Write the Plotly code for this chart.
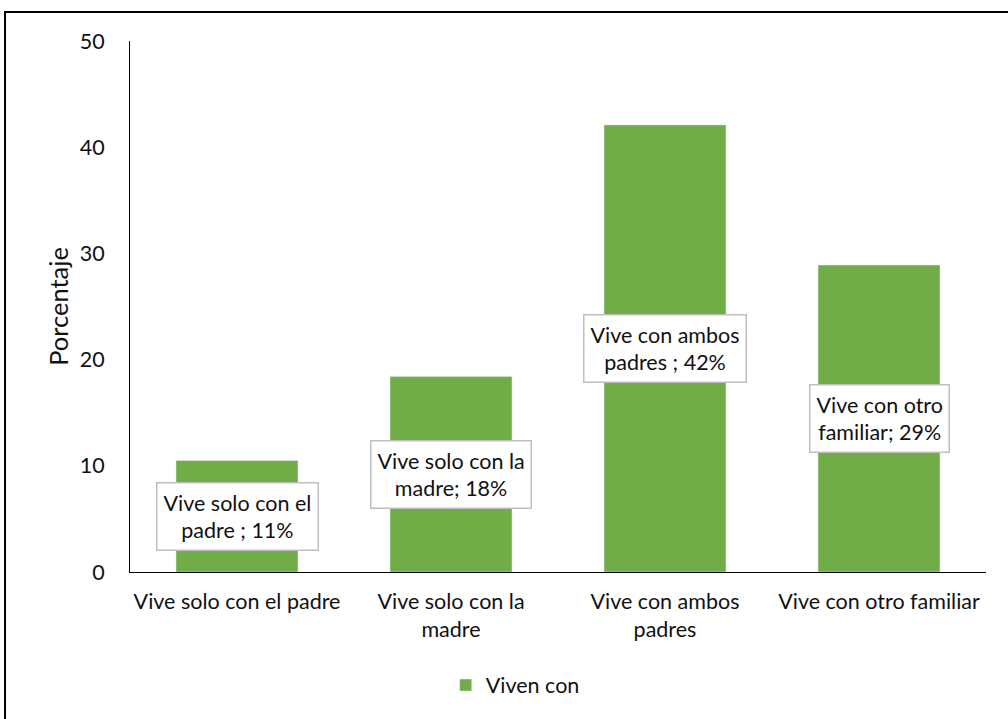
import plotly.graph_objects as go

categories = ["Vive solo con el padre", "Vive solo con la<br>madre", "Vive con ambos<br>padres", "Vive con otro familiar"]
values = [10.5, 18.4, 42.1, 28.9]
label_texts = ["Vive solo con el<br>padre ; 11%", "Vive solo con la<br>madre; 18%", "Vive con ambos<br>padres ; 42%", "Vive con otro<br>familiar; 29%"]
series_name = "Viven con"
y_ticks = [0, 10, 20, 30, 40, 50]

FONT = "Lato, 'Open Sans', sans-serif"
GREEN = "#70AD47"
FS = 21.5

fig = go.Figure()
fig.add_trace(go.Bar(x=categories, y=values, name=series_name, marker_color=GREEN,
                     width=0.57, showlegend=True))

for c, v, t in zip(categories, values, label_texts):
    fig.add_annotation(x=c, y=v / 2, text=t, showarrow=False,
                       font=dict(family=FONT, size=FS, color="#111111"),
                       bgcolor="white", bordercolor="#BFBFBF", borderwidth=1.5, borderpad=6,
                       align="center")

fig.add_shape(type="rect", xref="paper", yref="paper", x0=-0.146, x1=1.03, y0=-0.29, y1=1.0546,
              line=dict(color="black", width=2), fillcolor="rgba(0,0,0,0)", layer="below")

fig.update_layout(
    width=1008, height=719,
    margin=dict(l=130, r=22, t=41, b=147, autoexpand=False),
    plot_bgcolor="white", paper_bgcolor="white",
    font=dict(family=FONT, size=FS, color="#111111"),
    showlegend=True,
    legend=dict(orientation="h", x=0.45, xanchor="center", y=-0.213, yanchor="middle",
                font=dict(size=FS), itemwidth=30),
    xaxis=dict(showline=True, linecolor="black", linewidth=1, ticks="", showgrid=False,
               tickfont=dict(size=FS), ticklabelstandoff=10),
    yaxis=dict(range=[0, 50], tickvals=y_ticks, showline=True, linecolor="black", linewidth=1,
               showgrid=False, ticks="", zeroline=False, tickfont=dict(size=FS),
               ticklabelstandoff=20,
               title=dict(text="Porcentaje", font=dict(size=25.5), standoff=3)),
)

fig.write_html("out.html", config={"displayModeBar": False},
               post_script="document.body.style.margin='0';document.body.style.overflow='hidden';")
